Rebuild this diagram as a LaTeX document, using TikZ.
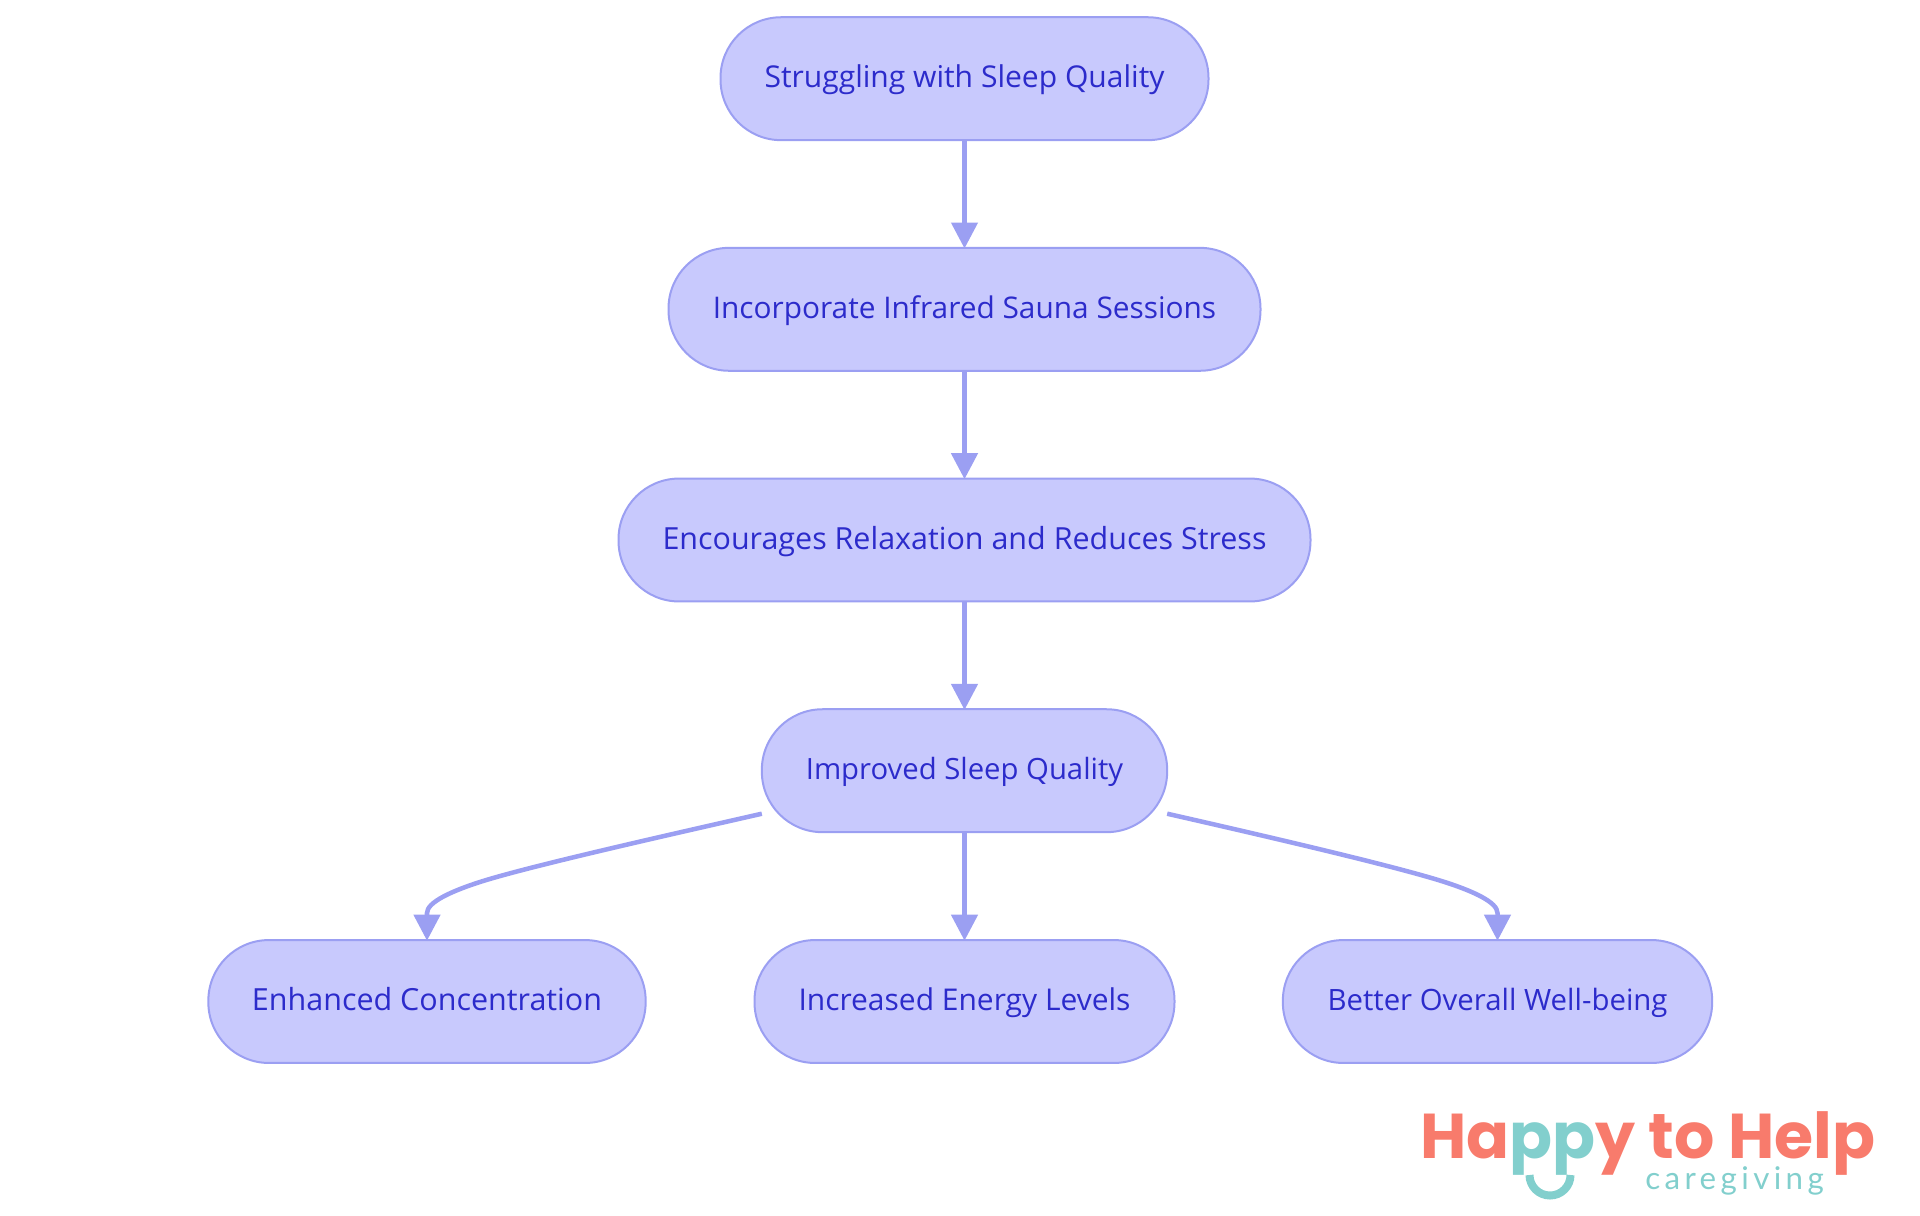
\documentclass[tikz,border=0pt]{standalone}
\usepackage{graphicx}
\usepackage{fontspec}
\setmainfont{Open Sans}
\newfontfamily\logofont{Poppins}[Scale=1]
\newfontfamily\logolight{Lato}[LetterSpace=14]
\usetikzlibrary{arrows.meta,calc}
\definecolor{nodefill}{HTML}{C8C9FD}
\definecolor{nodeline}{HTML}{9B9FF2}
\definecolor{nodetext}{HTML}{2C2BCB}
\definecolor{logored}{HTML}{F87B6C}
\definecolor{logoteal}{HTML}{82CFCD}
\newcommand{\fitw}[2]{\resizebox{#1pt}{!}{#2}}
\tikzset{
  pill/.style={draw=nodeline,fill=nodefill,line width=1.5pt,rounded corners=45.5pt,outer sep=0pt,
    minimum height=92.2pt,inner sep=0pt,align=center,text=nodetext,
    font=\fontsize{22.4pt}{26pt}\selectfont,text height=15pt,text depth=1.5pt},
  link/.style={draw=nodeline,line width=3.4pt,shorten >=-0.5pt,-{Triangle[length=19.5pt,width=19.5pt]}}
}
\begin{document}
\begin{tikzpicture}[x=0.75pt,y=-0.75pt]
\useasboundingbox (0,0) rectangle (1920,1215);
\node[pill,minimum width=366pt] (n1) at (964.5,78.7) {\fitw{300}{Struggling with Sleep Quality}};
\node[pill,minimum width=444pt] (n2) at (964.5,309.3) {\fitw{377.5}{Incorporate Infrared Sauna Sessions}};
\node[pill,minimum width=519pt] (n3) at (964.5,540) {\fitw{453}{Encourages Relaxation and Reduces Stress}};
\node[pill,minimum width=304pt] (n4) at (964.5,770.7) {\fitw{238}{Improved Sleep Quality}};
\node[pill,minimum width=328pt] (n5) at (427,1001.5) {\fitw{262.5}{Enhanced Concentration}};
\node[pill,minimum width=315pt] (n6) at (964.5,1001.5) {\fitw{249}{Increased Energy Levels}};
\node[pill,minimum width=322pt] (n7) at (1497.5,1001.5) {\fitw{255}{Better Overall Well-being}};
\draw[link] (n1.south) -- (n2.north);
\draw[link] (n2.south) -- (n3.north);
\draw[link] (n3.south) -- (n4.north);
\draw[link] (n4.south) -- (n6.north);
\coordinate (s5) at ($(n4.west)+(0,43)$);
\coordinate (s7) at ($(n4.east)+(0,43)$);
\draw[link] (s5) .. controls +(-110,25) and ($(n5.north)+(95,-72)$) .. ($(n5.north)+(49.7,-57)$)
  .. controls ($(n5.north)+(25,-48.8)$) and ($(n5.north)+(0,-38)$) .. ($(n5.north)+(0,-27)$) -- (n5.north);
\draw[link] (s7) .. controls +(110,25) and ($(n7.north)+(-95,-72)$) .. ($(n7.north)+(-49.7,-57)$)
  .. controls ($(n7.north)+(-25,-48.8)$) and ($(n7.north)+(0,-38)$) .. ($(n7.north)+(0,-27)$) -- (n7.north);
% logo
\node[anchor=base west,inner sep=0pt,font=\logofont\bfseries\fontsize{47.5pt}{52pt}\selectfont] (logo) at (1420,1158)
  {\textcolor{logored}{Ha}\textcolor{logoteal}{pp}\textcolor{logored}{y to Help}};
\node[anchor=base west,inner sep=0pt,text=logoteal,font=\logolight\fontsize{23.5pt}{27pt}\selectfont] (care) at (1645,1189) {caregiving};
\draw[logoteal,line width=6pt] (1529.5,1175) arc[start angle=180,end angle=0,radius=20.5];
\end{tikzpicture}
\end{document}
